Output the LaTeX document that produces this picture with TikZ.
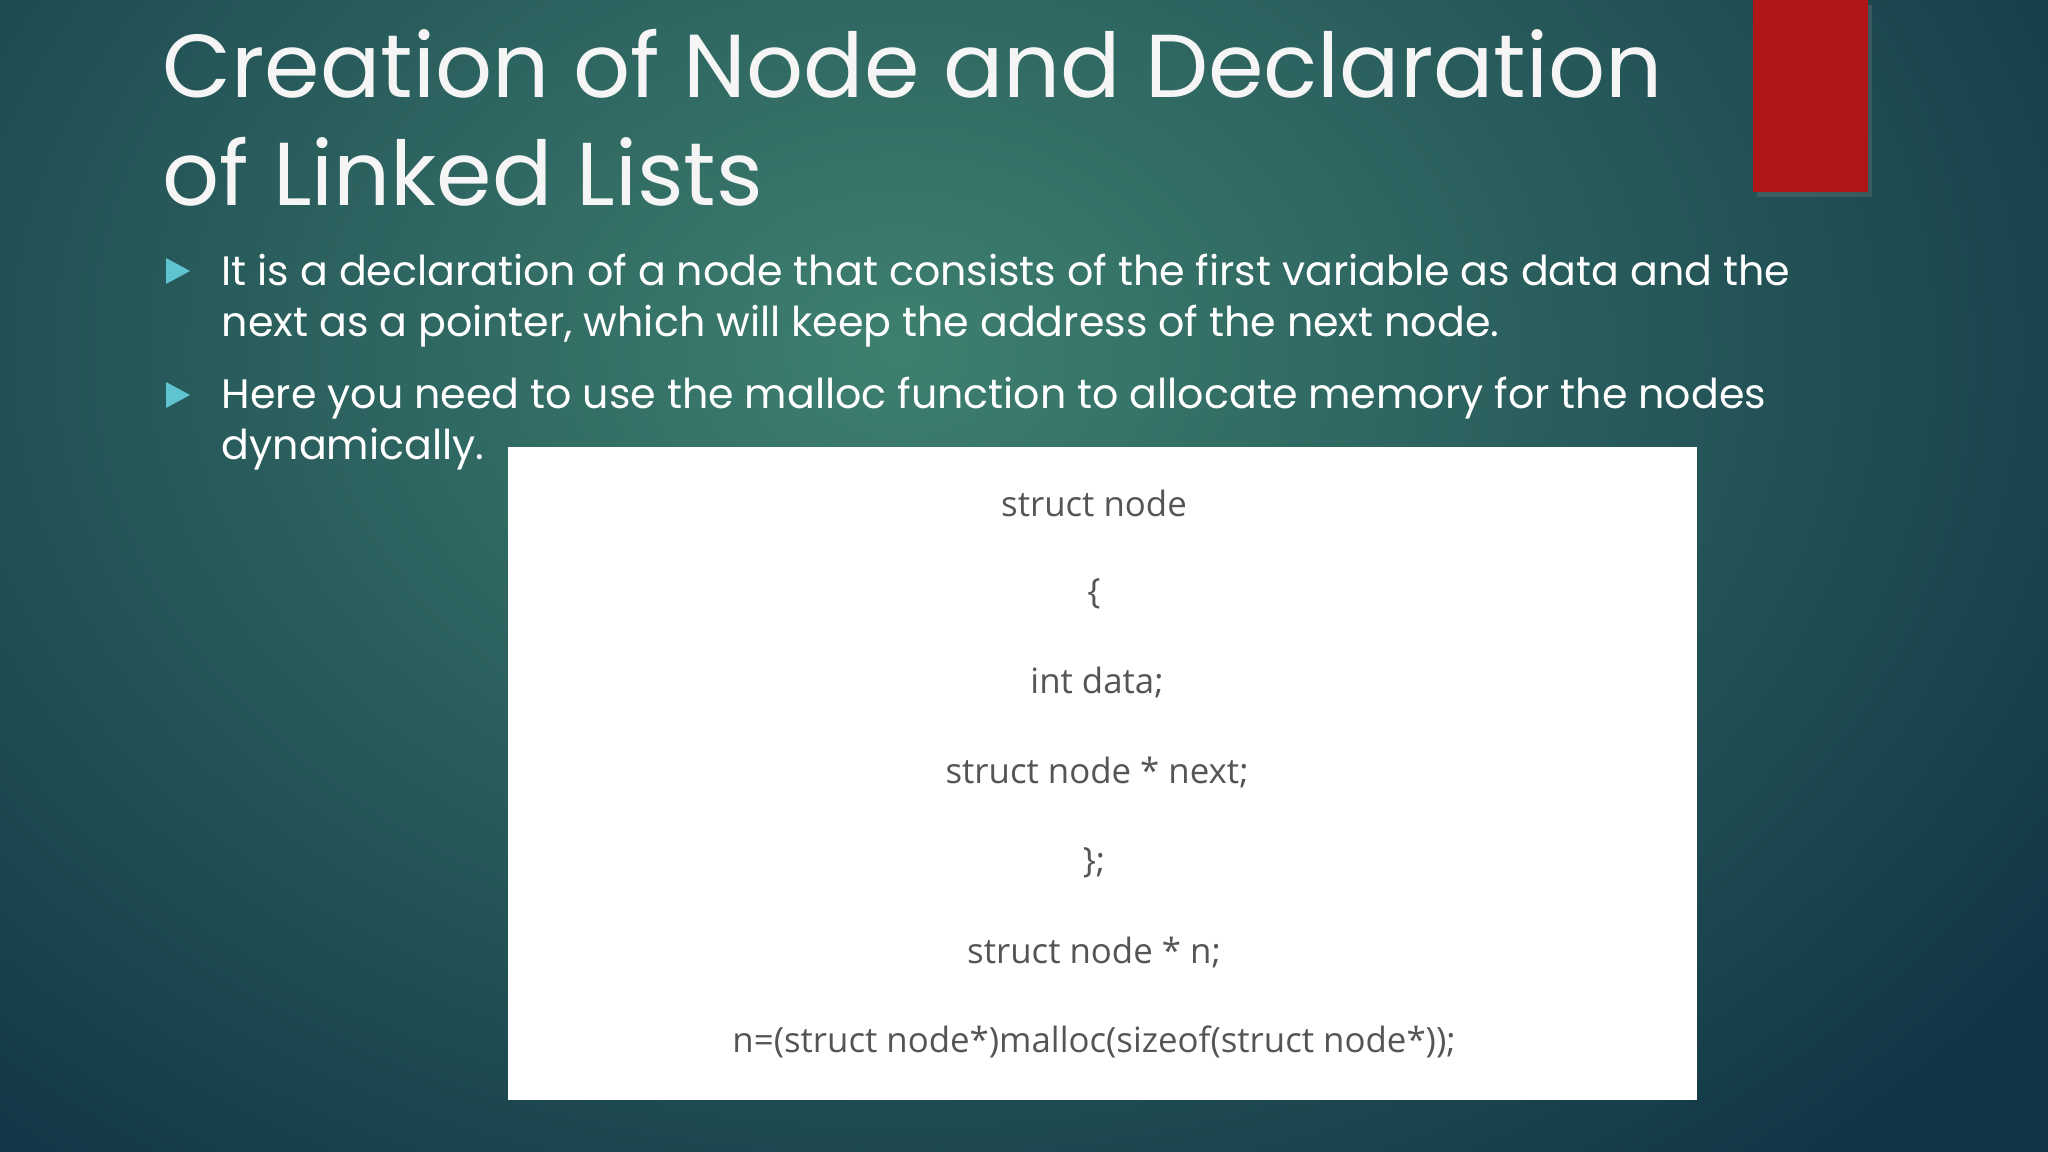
\documentclass[tikz,border=0pt]{standalone}
\usepackage{fontspec}
\setmainfont{Poppins}
\newfontfamily\codefont{Open Sans}
\usetikzlibrary{shadows}
\definecolor{bgin}{HTML}{3E8070}
\definecolor{bgout}{HTML}{123646}
\definecolor{redbar}{HTML}{B01616}
\definecolor{bul}{HTML}{5FC4D0}
\definecolor{codegray}{HTML}{555555}
\tikzset{
 titletext/.style={anchor=base west,inner sep=0,text=white!92!gray,font=\fontsize{25.4pt}{30pt}\selectfont},
 bullettext/.style={anchor=base west,inner sep=0,text=white,font=\fontsize{11.7pt}{15pt}\selectfont},
 codeline/.style={inner sep=0,text=codegray,font=\codefont\fontsize{9.9pt}{12pt}\selectfont},
 bulletmark/.style={fill=bul,draw=none}
}
\begin{document}
\begin{tikzpicture}[x=0.01cm,y=-0.01cm]
\useasboundingbox (0,0) rectangle (2048,1152);
\shade[inner color=bgin,outer color=bgout] (-500,-700) rectangle (2300,1400);
\fill[redbar,drop shadow={opacity=0.3,shadow xshift=1pt,shadow yshift=-1.5pt}] (1753,0) rectangle (1868,192);
\node[titletext] (t1) at (162,98) {Creation of Node and Declaration};
\node[titletext] (t2) at (162,206) {of Linked Lists};
\fill[bulletmark] (166,258) -- (190,271) -- (166,284) -- cycle;
\fill[bulletmark] (166,382) -- (190,395) -- (166,408) -- cycle;
\node[bullettext] (b1a) at (221,286) {It is a declaration of a node that consists of the first variable as data and the};
\node[bullettext] (b1b) at (221,337) {next as a pointer, which will keep the address of the next node.};
\node[bullettext] (b2a) at (221,409) {Here you need to use the malloc function to allocate memory for the nodes};
\node[bullettext] (b2b) at (221,460) {dynamically.};
\fill[white] (508,447) rectangle (1697,1100);
\node[codeline] (c1) at (1094,503) {struct node};
\node[codeline] (c2) at (1094,594) {\{};
\node[codeline] (c3) at (1097,683) {int data;};
\node[codeline] (c4) at (1097,773) {struct node * next;};
\node[codeline] (c5) at (1094,863) {\};};
\node[codeline] (c6) at (1094,953) {struct node * n;};
\node[codeline] (c7) at (1094,1042) {n=(struct node*)malloc(sizeof(struct node*));};
\end{tikzpicture}
\end{document}
